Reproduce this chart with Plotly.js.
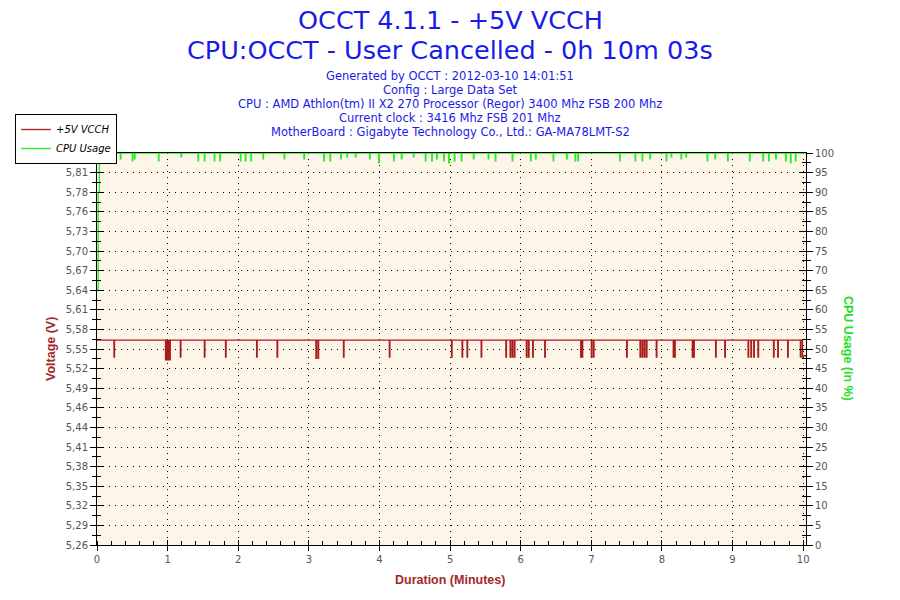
<!DOCTYPE html>
<html><head><meta charset="utf-8">
<script src="https://cdn.plot.ly/plotly-3.0.1.min.js"></script>
<style>html,body{margin:0;padding:0;background:#fff}#chart{width:900px;height:600px}</style>
</head><body><div id="chart"></div>
<script>
// ---- data ----
const voltTime = [0,
 0.24,0.248, 0.97,0.978, 0.99,0.998, 1.01,1.018, 1.03,1.038, 1.18,1.188, 1.52,1.528, 1.82,1.828,
 2.26,2.268, 2.55,2.558, 3.10,3.108, 3.13,3.138, 3.49,3.498, 4.14,4.148, 5.02,5.028, 5.17,5.178,
 5.24,5.248, 5.44,5.448, 5.79,5.798, 5.85,5.858, 5.88,5.888, 5.91,5.918, 6.08,6.088, 6.11,6.118,
 6.17,6.178, 6.34,6.348, 6.85,6.858, 6.87,6.878, 7.00,7.008, 7.03,7.038, 7.50,7.508, 7.69,7.698,
 7.72,7.728, 7.75,7.758, 7.78,7.788, 7.92,7.928, 8.16,8.168, 8.18,8.188, 8.43,8.438, 8.45,8.458,
 8.76,8.768, 8.89,8.898, 9.22,9.228, 9.26,9.268, 9.30,9.308, 9.36,9.368, 9.58,9.588, 9.64,9.648,
 9.78,9.788, 9.96,9.968, 9.99,9.998, 10.04];
const voltValue = [5.563,
 5.538,5.563, 5.534,5.563, 5.534,5.563, 5.534,5.563, 5.534,5.563, 5.538,5.563, 5.538,5.563, 5.538,5.563,
 5.538,5.563, 5.538,5.563, 5.536,5.563, 5.536,5.563, 5.538,5.563, 5.538,5.563, 5.538,5.563, 5.538,5.563,
 5.538,5.563, 5.538,5.563, 5.538,5.563, 5.538,5.563, 5.538,5.563, 5.538,5.563, 5.538,5.563, 5.538,5.563,
 5.538,5.563, 5.538,5.563, 5.538,5.563, 5.538,5.563, 5.538,5.563, 5.538,5.563, 5.538,5.563, 5.538,5.563,
 5.538,5.563, 5.538,5.563, 5.538,5.563, 5.538,5.563, 5.538,5.563, 5.538,5.563, 5.538,5.563, 5.538,5.563,
 5.538,5.563, 5.538,5.563, 5.538,5.563, 5.538,5.563, 5.538,5.563, 5.538,5.563, 5.538,5.563, 5.538,5.563,
 5.538,5.563, 5.538,5.563, 5.538,5.540, 5.540];
const cpuTime = [0, 0.017, 0.034,
 0.15,0.158, 0.19,0.198, 0.22,0.228, 0.33,0.338, 0.50,0.508, 0.53,0.538, 0.87,0.878, 1.19,1.198,
 1.43,1.438, 1.52,1.528, 1.66,1.668, 1.74,1.748, 2.03,2.038, 2.10,2.108, 2.18,2.188, 2.35,2.358,
 2.65,2.658, 2.93,2.938, 3.21,3.218, 3.30,3.308, 3.45,3.458, 3.54,3.548, 3.66,3.668, 3.86,3.868,
 3.99,3.998, 4.20,4.208, 4.31,4.318, 4.48,4.488, 4.65,4.658, 4.74,4.748, 4.81,4.818, 4.91,4.918,
 4.98,4.988, 5.06,5.068, 5.16,5.168, 5.33,5.338, 5.54,5.548, 5.64,5.648, 5.88,5.888, 6.14,6.148,
 6.21,6.218, 6.46,6.468, 6.65,6.658, 6.77,6.778, 6.81,6.818, 7.40,7.408, 7.62,7.628, 7.72,7.728,
 7.83,7.838, 8.06,8.068, 8.13,8.138, 8.27,8.278, 8.34,8.348, 8.64,8.648, 8.75,8.758, 8.93,8.938,
 9.24,9.248, 9.43,9.438, 9.51,9.518, 9.61,9.618, 9.75,9.758, 9.82,9.828, 9.89,9.898, 10.04];
const cpuValue = [65, 90, 100,
 97.5,100, 98,100, 98,100, 98.5,100, 98,100, 98.5,100, 98,100, 99,100,
 98,100, 98,100, 98,100, 98,100, 98,100, 98,100, 98,100, 98.5,100,
 98.5,100, 98.5,100, 98,100, 98,100, 98.5,100, 99,100, 99,100, 98.5,100,
 97.5,100, 98,100, 98.5,100, 99,100, 98,100, 98,100, 98.5,100, 98,100,
 97.5,100, 98,100, 98,100, 98.5,100, 98.5,100, 98,100, 98,100, 98,100,
 98.5,100, 98,100, 98.5,100, 98,100, 98,100, 98,100, 98,100, 98,100,
 98.5,100, 98,100, 99,100, 98.5,100, 99,100, 98,100, 98.5,100, 98,100,
 98,100, 98,100, 98,100, 98.5,100, 98,100, 97.5,100, 98,100, 100];
const voltTickVals = [5.26,5.289,5.318,5.347,5.376,5.405,5.434,5.463,5.492,5.521,5.55,5.579,5.608,5.637,5.666,5.695,5.724,5.753,5.782,5.811,5.84];
const voltTickText = ['5,26','5,29','5,32','5,35','5,38','5,41','5,44','5,46','5,49','5,52','5,55','5,58','5,61','5,64','5,67','5,70','5,73','5,76','5,78','5,81','5,84'];
const cpuTickVals = [0,5,10,15,20,25,30,35,40,45,50,55,60,65,70,75,80,85,90,95,100];
const timeTickVals = [0,1,2,3,4,5,6,7,8,9,10];
const titleLines = ['OCCT 4.1.1 - +5V VCCH', 'CPU:OCCT - User Cancelled - 0h 10m 03s'];
const infoLines = ['Generated by OCCT : 2012-03-10 14:01:51', 'Config : Large Data Set',
 'CPU : AMD Athlon(tm) II X2 270 Processor (Regor) 3400 Mhz FSB 200 Mhz',
 'Current clock : 3416 Mhz FSB 201 Mhz', 'MotherBoard : Gigabyte Technology Co., Ltd.: GA-MA78LMT-S2'];
const seriesNames = ['+5V VCCH', 'CPU Usage'];

// ---- layout ----
const L = 97, T = 153, W = 709, H = 392;
const py = y => (T + H - y) / H;           // pixel row -> paper y
const px = x => (x - L) / W;               // pixel col -> paper x
const blue = '#1a1ae8';
const tickFont = {family: 'DejaVu Sans, Verdana, sans-serif', size: 10, color: '#555'};
const xr = [0, 10.04], yr = [5.26, 5.84], y2r = [0, 100];

const traces = [
 {x: voltTime, y: voltValue, name: seriesNames[0], type: 'scatter', mode: 'lines',
  line: {color: '#aa1c1c', width: 1.3, shape: 'hv'}, xaxis: 'x', yaxis: 'y'},
 {x: cpuTime, y: cpuValue, name: seriesNames[1], type: 'scatter', mode: 'lines',
  line: {color: '#22ee22', width: 1.3, shape: 'hv'}, xaxis: 'x', yaxis: 'y2'},
 {x: [], y: [], xaxis: 'x2', yaxis: 'y3', showlegend: false, hoverinfo: 'skip'},
 {x: [], y: [], xaxis: 'x2', yaxis: 'y4', showlegend: false, hoverinfo: 'skip'}
];

const ann = (text, x, y, font, extra) => Object.assign({text, x: px(x), y: py(y), xref: 'paper', yref: 'paper',
  showarrow: false, xanchor: 'center', yanchor: 'middle', font}, extra || {});
const annotations = [];
const titleFont = {family: 'DejaVu Sans, Verdana, sans-serif', size: 25.5, color: blue};
annotations.push(ann(titleLines[0], 450, 20, titleFont));
annotations.push(ann(titleLines[1], 450, 50, titleFont));
infoLines.forEach((t, i) => annotations.push(ann(t, 450, 76 + 14 * i,
  {family: 'DejaVu Sans, Verdana, sans-serif', size: 11.5, color: blue})));
const axFont = c => ({family: 'Liberation Sans, Arial, sans-serif', size: 12.5, color: c});
annotations.push(ann('<b>Voltage (V)</b>', 51, 349, axFont('#a52828'), {textangle: -90}));
annotations.push(ann('<b>Duration (Minutes)</b>', 450, 580, axFont('#a52828')));
annotations.push(ann('<b>CPU Usage (in %)</b>', 848, 349, axFont('#22e022'), {textangle: 90}));

const layout = {
  width: 900, height: 600,
  margin: {l: L, r: 900 - L - W, t: T, b: 600 - T - H, pad: 0},
  paper_bgcolor: '#ffffff', plot_bgcolor: '#fdf6e8',
  showlegend: true,
  legend: {x: px(15), y: py(114), xanchor: 'left', yanchor: 'top', bgcolor: '#ffffff',
    bordercolor: '#000', borderwidth: 1, font: {family: 'DejaVu Sans, Verdana, sans-serif', size: 10, color: '#000', style: 'italic'},
    itemwidth: 30, tracegroupgap: 0},
  xaxis: {range: xr, tickvals: timeTickVals, ticks: 'outside', ticklen: 5, tickcolor: '#000', tickfont: tickFont,
    showline: true, linecolor: '#000', linewidth: 1, mirror: true, zeroline: false,
    showgrid: true, gridcolor: '#000', griddash: '1px,5px', gridwidth: 1,
    minor: {dtick: 0.2, tick0: 0, ticks: 'inside', ticklen: 4, tickcolor: '#000', showgrid: false}},
  xaxis2: {overlaying: 'x', range: xr, anchor: 'y', tickvals: timeTickVals, ticks: 'inside', ticklen: 5, tickcolor: '#000',
    showticklabels: false, showgrid: false, zeroline: false, showline: false},
  yaxis: {range: yr, tickvals: voltTickVals, ticktext: voltTickText, ticks: 'outside', ticklen: 6, tickcolor: '#000',
    tickfont: tickFont, showline: true, linecolor: '#000', zeroline: false,
    showgrid: true, gridcolor: '#000', griddash: '1px,5px', gridwidth: 1,
    minor: {dtick: 0.0145, tick0: 5.26, ticks: 'outside', ticklen: 4, tickcolor: '#000', showgrid: false}},
  yaxis2: {overlaying: 'y', side: 'right', range: y2r, tickvals: cpuTickVals, ticks: 'outside', ticklen: 6, tickcolor: '#000',
    tickfont: tickFont, showline: true, linecolor: '#000', zeroline: false, showgrid: false,
    minor: {dtick: 2.5, tick0: 0, ticks: 'outside', ticklen: 4, tickcolor: '#000', showgrid: false}},
  yaxis3: {overlaying: 'y', side: 'left', anchor: 'x2', range: yr, tickvals: voltTickVals, ticks: 'inside', ticklen: 6,
    tickcolor: '#000', showticklabels: false, showgrid: false, zeroline: false,
    minor: {dtick: 0.0145, tick0: 5.26, ticks: 'inside', ticklen: 4, tickcolor: '#000', showgrid: false}},
  yaxis4: {overlaying: 'y', side: 'right', anchor: 'x2', range: y2r, tickvals: cpuTickVals, ticks: 'inside', ticklen: 6,
    tickcolor: '#000', showticklabels: false, showgrid: false, zeroline: false,
    minor: {dtick: 2.5, tick0: 0, ticks: 'inside', ticklen: 4, tickcolor: '#000', showgrid: false}},
  annotations: annotations
};

Plotly.newPlot('chart', traces, layout, {displayModeBar: false, staticPlot: true});
</script></body></html>
